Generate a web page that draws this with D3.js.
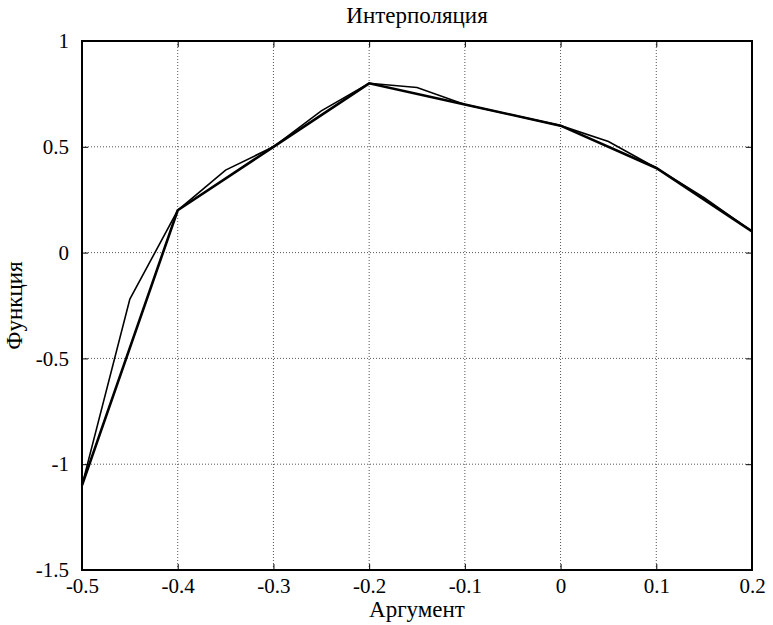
<!DOCTYPE html>
<html>
<head>
<meta charset="utf-8">
<script src="https://cdn.jsdelivr.net/npm/d3@7"></script>
<style>
  body { margin: 0; background: #fff; }
  svg text { font-family: "Liberation Serif", "Times New Roman", Times, serif; fill: #000; }
</style>
</head>
<body>
<div id="chart"></div>
<script>
//data
var xNodes = [-0.5, -0.4, -0.3, -0.2, -0.1, 0, 0.1, 0.2];
var yNodes = [-1.1, 0.2, 0.5, 0.8, 0.7, 0.6, 0.4, 0.1];

var xInterp = [-0.5, -0.45, -0.4, -0.35, -0.3, -0.25, -0.2, -0.15, -0.1, -0.05, 0, 0.05, 0.1, 0.15, 0.2];
var yInterp = [-1.1, -0.22, 0.2, 0.39, 0.5, 0.67, 0.8, 0.78, 0.7, 0.65, 0.6, 0.525, 0.4, 0.26, 0.1];

var xTicks = [-0.5, -0.4, -0.3, -0.2, -0.1, 0, 0.1, 0.2];
var yTicks = [-1.5, -1, -0.5, 0, 0.5, 1];

//dims
var width = 773;
var height = 625;
var margin = { top: 41, right: 21, bottom: 55, left: 82 };
var w = width - margin.left - margin.right;
var h = height - margin.top - margin.bottom;
var tickFont = '21px';
var labelFont = '23px';

var svg = d3.select("#chart")
    .append('svg')
    .attr('width', width)
    .attr('height', height);

var g = svg.append('g')
    .attr('transform', 'translate(' + margin.left + ',' + margin.top + ')');

//scales
var x = d3.scaleLinear().domain([-0.5, 0.2]).range([0, w]);
var y = d3.scaleLinear().domain([-1.5, 1]).range([h, 0]);

var fmt = function(d) { return String(+d.toFixed(2)); };

//grid
g.selectAll('.gx')
  .data(xTicks)
  .enter()
  .append('line')
  .attr('x1', function(d) { return x(d); })
  .attr('x2', function(d) { return x(d); })
  .attr('y1', 0)
  .attr('y2', h)
  .attr('stroke', '#555')
  .attr('stroke-width', 1)
  .attr('stroke-dasharray', '1,2');

g.selectAll('.gy')
  .data(yTicks)
  .enter()
  .append('line')
  .attr('x1', 0)
  .attr('x2', w)
  .attr('y1', function(d) { return y(d); })
  .attr('y2', function(d) { return y(d); })
  .attr('stroke', '#555')
  .attr('stroke-width', 1)
  .attr('stroke-dasharray', '1,2');

//axes
var xAxis = g.append('g')
  .attr('transform', 'translate(0,' + h + ')')
  .call(d3.axisBottom(x).tickValues(xTicks).tickFormat(fmt).tickSizeInner(-6).tickSizeOuter(0).tickPadding(8));

var yAxis = g.append('g')
  .call(d3.axisLeft(y).tickValues(yTicks).tickFormat(fmt).tickSizeInner(-6).tickSizeOuter(0).tickPadding(13));

[xAxis, yAxis].forEach(function(a) {
  a.attr('font-family', null).attr('font-size', null);
  a.select('.domain').remove();
  a.selectAll('line').attr('stroke', '#000');
  a.selectAll('text').style('font-size', tickFont);
});

// top/right ticks
g.append('g')
  .call(d3.axisTop(x).tickValues(xTicks).tickFormat('').tickSizeInner(-6).tickSizeOuter(0))
  .call(function(s) { s.select('.domain').remove(); });
g.append('g')
  .attr('transform', 'translate(' + w + ',0)')
  .call(d3.axisRight(y).tickValues(yTicks).tickFormat('').tickSizeInner(-6).tickSizeOuter(0))
  .call(function(s) { s.select('.domain').remove(); });

//lines
var line = d3.line()
  .x(function(d) { return x(d[0]); })
  .y(function(d) { return y(d[1]); });

g.append('path')
  .datum(d3.zip(xInterp, yInterp))
  .attr('fill', 'none')
  .attr('stroke', '#000')
  .attr('stroke-width', 1.6)
  .attr('d', line);

g.append('path')
  .datum(d3.zip(xNodes, yNodes))
  .attr('fill', 'none')
  .attr('stroke', '#000')
  .attr('stroke-width', 2.6)
  .attr('d', line);

//frame
g.append('rect')
  .attr('width', w)
  .attr('height', h)
  .attr('fill', 'none')
  .attr('stroke', '#000')
  .attr('stroke-width', 2);

//labels
svg.append('text')
  .attr('x', margin.left + w / 2)
  .attr('y', 23)
  .attr('text-anchor', 'middle')
  .style('font-size', labelFont)
  .text('Интерполяция');

svg.append('text')
  .attr('x', margin.left + w / 2)
  .attr('y', 617)
  .attr('text-anchor', 'middle')
  .style('font-size', labelFont)
  .text('Аргумент');

svg.append('text')
  .attr('transform', 'translate(22,' + (margin.top + h / 2) + ') rotate(-90)')
  .attr('text-anchor', 'middle')
  .style('font-size', labelFont)
  .text('Функция');
</script>
</body>
</html>
